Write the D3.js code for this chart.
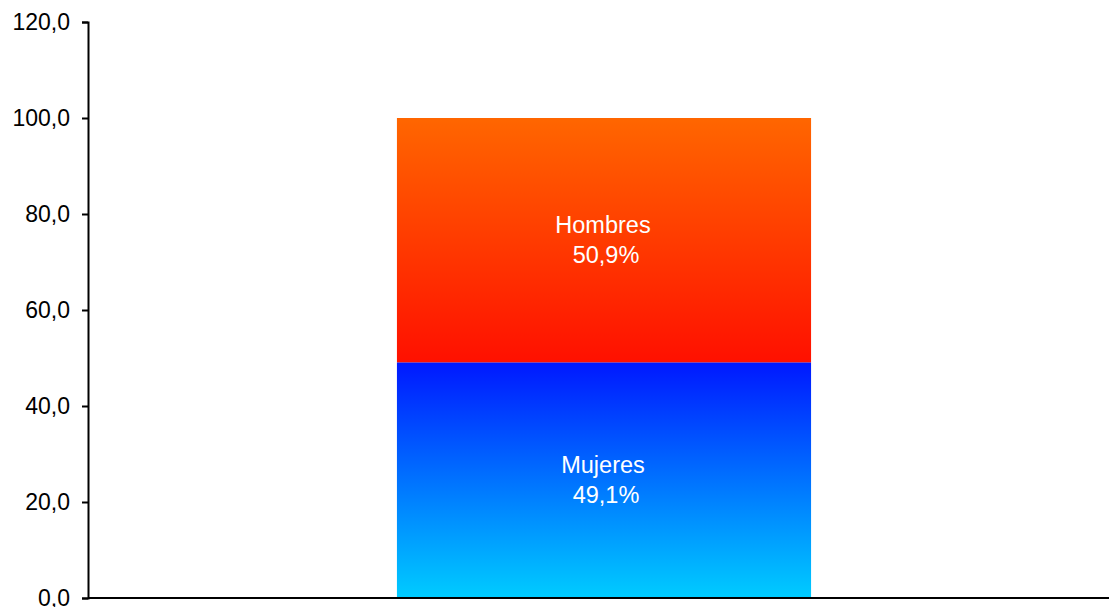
<!DOCTYPE html>
<html>
<head>
<meta charset="utf-8">
<script src="https://cdn.jsdelivr.net/npm/d3@7"></script>
<style>
  body { margin: 0; background: #fff; }
  svg { display: block; font-family: "Liberation Sans", Arial, sans-serif; }
</style>
</head>
<body>
<div id="container"></div>
<script>
// data
let categories = ["Total"];
let seriesNames = ["Mujeres", "Hombres"];
let mujeres = [49.1];
let hombres = [50.9];
let yTicks = [0, 20, 40, 60, 80, 100, 120];

let w = 1109, h = 607;
let margin = {top: 22, right: -11, bottom: 9, left: 88};

let viz = d3.select("#container")
  .append("svg")
    .attr("width", w)
    .attr("height", h)
;

let defs = viz.append("defs");
function addGrad(id, top, bottom){
  let g = defs.append("linearGradient").attr("id", id)
    .attr("x1", 0).attr("y1", 0).attr("x2", 0).attr("y2", 1);
  g.append("stop").attr("offset", "0%").attr("stop-color", top);
  g.append("stop").attr("offset", "100%").attr("stop-color", bottom);
}
addGrad("gradH", "#ff6600", "#ff1000");
addGrad("gradM", "#0018ff", "#00ccff");

let y = d3.scaleLinear().domain([0, 120]).range([h - margin.bottom, margin.top]);
let x = d3.scaleBand().domain(categories).range([margin.left, w - margin.right]).paddingInner(0).paddingOuter(0.746);

let stackData = categories.map((c, i) => ({cat: c, Mujeres: mujeres[i], Hombres: hombres[i]}));
let stacked = d3.stack().keys(seriesNames)(stackData);
let grads = {Mujeres: "url(#gradM)", Hombres: "url(#gradH)"};

let vizGroup = viz.append("g");

stacked.forEach(s => {
  s.forEach(d => {
    vizGroup.append("rect")
      .attr("x", x(d.data.cat))
      .attr("width", x.bandwidth())
      .attr("y", y(d[1]))
      .attr("height", y(d[0]) - y(d[1]))
      .attr("fill", grads[s.key]);

    let cx = x(d.data.cat) + x.bandwidth() / 2;
    let cy = (y(d[0]) + y(d[1])) / 2;
    let t = vizGroup.append("text")
      .attr("x", cx)
      .attr("y", cy)
      .attr("text-anchor", "middle")
      .attr("fill", "#fff")
      .style("font-size", "23.5px");
    t.append("tspan").attr("x", cx - 1).attr("dy", "-7").text(s.key);
    t.append("tspan").attr("x", cx + 2).attr("dy", "30")
      .text(d3.format(".1f")(d.data[s.key]).replace(".", ",") + "%");
  });
});

// y axis
let yAxis = d3.axisLeft(y)
  .tickValues(yTicks)
  .tickSize(6)
  .tickPadding(12)
  .tickFormat(d => d3.format(".1f")(d).replace(".", ","));

let yg = viz.append("g")
  .attr("transform", "translate(" + margin.left + ",0)")
  .call(yAxis);
yg.select(".domain").attr("stroke", "#000").attr("stroke-width", 2);
yg.selectAll(".tick line").attr("stroke", "#000").attr("stroke-width", 2);
yg.selectAll(".tick text")
  .attr("fill", "#000")
  .style("font-size", "23px")
  .style("font-family", "'Liberation Sans', Arial, sans-serif");

// x axis line
viz.append("line")
  .attr("x1", margin.left)
  .attr("x2", w)
  .attr("y1", y(0))
  .attr("y2", y(0))
  .attr("stroke", "#000")
  .attr("stroke-width", 2);
</script>
</body>
</html>
